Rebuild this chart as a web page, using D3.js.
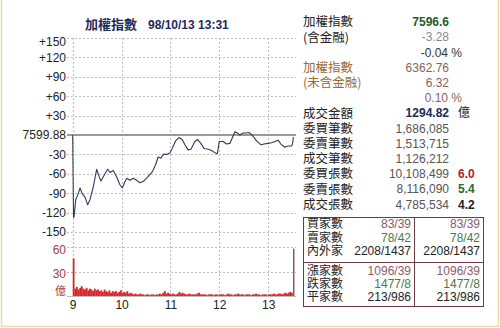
<!DOCTYPE html>
<html>
<head>
<meta charset="utf-8">
<script src="https://cdn.jsdelivr.net/npm/d3@7"></script>
<style>
  body { margin: 0; background: #fff; }
  text { font-family: "Liberation Sans", Arial, "Noto Sans CJK TC", sans-serif; }
  .cjk { font-family: "Noto Sans CJK TC", "Liberation Sans", sans-serif; }
</style>
</head>
<body>
<div id="chart"></div>
<script>
// price change vs previous close 7599.88, minutes after 9:00
const priceMinutes = [0, 1, 1.6, 3.7, 6.1, 9, 11.8, 15.1, 18.4, 21.2, 25.3, 29.4, 32.3, 34.7, 38.8, 42.9, 45.8, 49.8, 54, 58, 60.9,
  64.2, 66.6, 70.3, 74.4, 78.5, 82.6, 86.6, 92, 97.7, 101.8, 105, 108.3, 111.2, 115.3, 119.4, 122.2, 126.4, 130.4, 134.5,
  137.8, 141.8, 145.2, 150.1, 153.4, 157.4, 161.5, 166.4, 170.6, 175.5, 177.7, 179.9, 184.8, 189, 193, 195.8, 199.1, 202.4,
  205.3, 209.3, 213.5, 216.3, 220.4, 225.8, 231, 235.1, 240, 244.2, 248.2, 252.3, 255.6, 260.5, 264.5, 268.7, 270, 271];
const priceChange = [0, -127, -127, -100, -93, -82, -91, -96, -108, -100, -80, -53, -64, -71, -62, -53, -58, -55, -65, -77, -82,
  -72, -67, -70, -67, -70, -74, -72, -65, -57, -46, -34, -36, -30, -30, -28, -21, -9, -4, -7,
  -15, -23, -22, -10, -7, -13, -21, -22, -24, -28, -29, -10, -10, -14, -13, -5, 5, 3,
  0, 3, 3, 4, 0, -9, -15, -14, -13, -12, -10, -8, -14, -19, -17, -17, -14, -3];

// traded value per 2 minutes (億), from 9:00
const volume = [46, 9, 11, 8, 10, 12, 9, 8, 10, 7, 9, 8, 6, 9, 7, 8,
  6, 7, 5, 8, 6, 5, 7, 4, 6, 5, 6, 4, 5, 7, 4,
  5, 4, 6, 3, 4, 3, 2, 3, 2, 2, 3, 2, 2, 1, 2,
  2, 1, 2, 2, 1, 2, 2, 3, 2, 4, 6, 3, 4, 3, 2,
  3, 2, 2, 3, 5, 3, 4, 3, 2, 2, 3, 2, 2, 2, 2,
  3, 4, 2, 2, 2, 2, 1, 2, 2, 2, 1, 2, 2, 1, 2,
  2, 2, 1, 2, 3, 2, 2, 1, 2, 2, 3, 2, 2, 2, 1,
  2, 2, 2, 1, 2, 2, 3, 2, 2, 1, 2, 2, 2, 1, 2,
  2, 2, 3, 2, 2, 3, 3, 2, 3, 4, 3, 4, 5, 4];
const closingVolume = 58;

const priceTicks = [150, 120, 90, 60, 30, 0, -30, -60, -90, -120, -150];
const volumeTicks = [0, 30, 60];
const hourTicks = [0, 60, 120, 180, 240];
const hourLabels = ['9', '10', '11', '12', '13'];
const prevClose = '7599.88';

const title = ['加權指數', '98/10/13 13:31'];

const infoLabels = ['加權指數', '(含金融)', '', '加權指數', '(未含金融)', '', '成交金額', '委買筆數', '委賣筆數', '成交筆數', '委買張數', '委賣張數', '成交張數'];
const infoValues = ['7596.6', '-3.28', '', '6362.76', '6.32', '', '1294.82', '1,686,085', '1,513,715', '1,126,212', '10,108,499', '8,116,090', '4,785,534'];
const infoExtra = ['', '', '-0.04 %', '', '', '0.10 %', '億', '', '', '', '6.0', '5.4', '4.2'];

const tableLabels = ['買家數', '賣家數', '內外家', '漲家數', '跌家數', '平家數'];
const tableValues = ['83/39', '78/42', '2208/1437', '1096/39', '1477/8', '213/986'];

const svg = d3.select('#chart').append('svg')
  .attr('width', 500)
  .attr('height', 328);

// frame
svg.append('path')
  .attr('d', 'M1.5,0V326.5H498.5V0')
  .attr('fill', 'none')
  .attr('stroke', '#e6e29a')
  .attr('stroke-width', 1.5);

const x = d3.scaleLinear().domain([0, 273]).range([72.7, 295]);
const y = d3.scaleLinear().domain([-150, 150]).range([232, 38]);
const yVol = d3.scaleLinear().domain([0, 60]).range([296, 247]);
const plotRight = 296;

// gridlines
const grid = svg.append('g')
  .attr('stroke', '#bdbdbd')
  .attr('stroke-dasharray', '2,2')
  .attr('stroke-width', 1);

grid.selectAll('.hg')
  .data(priceTicks.filter(d => d !== 0))
  .join('line')
  .attr('x1', 67).attr('x2', plotRight)
  .attr('y1', d => Math.round(y(d)) + 0.5).attr('y2', d => Math.round(y(d)) + 0.5);

grid.selectAll('.vg')
  .data([30, 60])
  .join('line')
  .attr('x1', 67).attr('x2', plotRight)
  .attr('y1', d => Math.round(yVol(d)) + 0.5).attr('y2', d => Math.round(yVol(d)) + 0.5);

grid.selectAll('.xg')
  .data(hourTicks)
  .join('line')
  .attr('x1', d => Math.round(x(d)) + 0.5).attr('x2', d => Math.round(x(d)) + 0.5)
  .attr('y1', 38).attr('y2', 297);

// volume baseline
svg.append('line')
  .attr('x1', 67).attr('x2', plotRight)
  .attr('y1', 296.5).attr('y2', 296.5)
  .attr('stroke', '#bdbdbd');

// previous close line
svg.append('line')
  .attr('x1', 67).attr('x2', plotRight)
  .attr('y1', y(0)).attr('y2', y(0))
  .attr('stroke', '#9a9a9a')
  .attr('stroke-width', 2);

// volume bars
svg.append('g')
  .selectAll('rect')
  .data(volume)
  .join('rect')
  .attr('x', (d, i) => x(i * 2))
  .attr('width', x(2) - x(0) + 0.2)
  .attr('y', d => yVol(d))
  .attr('height', d => yVol(0) - yVol(d))
  .attr('fill', '#d8282c');

svg.append('rect')
  .attr('x', x(270) + 0.5)
  .attr('width', 1.4)
  .attr('y', yVol(closingVolume))
  .attr('height', yVol(0) - yVol(closingVolume))
  .attr('fill', '#8c4c50');

// price line
const line = d3.line()
  .x((d, i) => x(priceMinutes[i]))
  .y(d => y(d));

svg.append('path')
  .datum(priceChange)
  .attr('d', line)
  .attr('fill', 'none')
  .attr('stroke', '#2c3a58')
  .attr('stroke-width', 1.1)
  .attr('stroke-linejoin', 'round');

// axes (labels only)
const yAxis = d3.axisLeft(y)
  .tickValues(priceTicks)
  .tickSize(0)
  .tickPadding(0)
  .tickFormat(d => d === 0 ? prevClose : (d > 0 ? '+' + d : d));

const gy = svg.append('g')
  .attr('transform', 'translate(66,0)')
  .call(yAxis);
gy.select('.domain').remove();
gy.selectAll('text')
  .attr('font-size', 12)
  .attr('font-family', '"Liberation Sans", Arial, sans-serif')
  .attr('fill', '#222')
  .attr('dy', d => d === 150 ? '0.6em' : '0.32em');

const volAxis = d3.axisLeft(yVol)
  .tickValues(volumeTicks)
  .tickSize(0)
  .tickPadding(0)
  .tickFormat(d => d === 0 ? '億' : d);

const gv = svg.append('g')
  .attr('transform', 'translate(66,0)')
  .call(volAxis);
gv.select('.domain').remove();
gv.selectAll('text')
  .attr('fill', '#a83a3a')
  .attr('font-family', d => d === 0 ? '"Noto Sans CJK TC", sans-serif' : '"Liberation Sans", Arial, sans-serif')
  .attr('font-size', d => d === 0 ? 11 : 12)
  .attr('dy', d => d === 0 ? '-0.1em' : '0.5em');

const xAxis = d3.axisBottom(x)
  .tickValues(hourTicks)
  .tickSize(0)
  .tickPadding(0)
  .tickFormat((d, i) => hourLabels[i]);

const gx = svg.append('g')
  .attr('transform', 'translate(0,300)')
  .call(xAxis);
gx.select('.domain').remove();
gx.selectAll('text')
  .attr('font-size', 12)
  .attr('font-family', '"Liberation Sans", Arial, sans-serif')
  .attr('fill', '#222');

// title
svg.append('text')
  .attr('class', 'cjk')
  .attr('x', 85).attr('y', 29)
  .attr('font-size', 13)
  .attr('font-weight', 'bold')
  .attr('fill', '#1c2a58')
  .text(title[0]);
svg.append('text')
  .attr('x', 148).attr('y', 29)
  .attr('font-size', 12)
  .attr('font-weight', 'bold')
  .attr('fill', '#1c2a58')
  .text(title[1]);

// info panel
const rowY = i => 22 + i * 15.2;
const labelColor = i => (i === 3 || i === 4) ? '#9c6a30' : '#222';
const valueColor = ['#1e5a2c', '#8a8a8a', '', '#8a6060', '#8a6060', '', '#1c2a58', '#555', '#555', '#555', '#555', '#555', '#555'];
const extraColor = ['', '', '#333', '', '', '#8a6060', '#222', '', '', '', '#b0242a', '#2e6a2e', '#222'];

const info = svg.append('g');
info.selectAll('.lab')
  .data(infoLabels)
  .join('text')
  .attr('class', 'cjk')
  .attr('x', 303)
  .attr('y', (d, i) => rowY(i))
  .attr('dy', '0.35em')
  .attr('font-size', 12.5)
  .attr('fill', (d, i) => labelColor(i))
  .text(d => d);

info.selectAll('.val')
  .data(infoValues)
  .join('text')
  .attr('x', 449)
  .attr('y', (d, i) => rowY(i))
  .attr('dy', '0.35em')
  .attr('text-anchor', 'end')
  .attr('font-size', 12)
  .attr('font-weight', (d, i) => (i === 0 || i === 6) ? 'bold' : 'normal')
  .attr('fill', (d, i) => valueColor[i])
  .text(d => d);

info.selectAll('.ext')
  .data(infoExtra)
  .join('text')
  .attr('class', (d, i) => i === 6 ? 'cjk' : null)
  .attr('x', (d, i) => (i === 2 || i === 5) ? 462 : 458)
  .attr('y', (d, i) => rowY(i))
  .attr('dy', '0.35em')
  .attr('text-anchor', (d, i) => (i === 2 || i === 5) ? 'end' : 'start')
  .attr('font-size', 12)
  .attr('font-weight', (d, i) => i >= 10 ? 'bold' : 'normal')
  .attr('fill', (d, i) => extraColor[i])
  .text(d => d);

// breadth table
const table = svg.append('g');
table.append('rect')
  .attr('x', 303.5).attr('y', 217.5)
  .attr('width', 180).attr('height', 89)
  .attr('fill', 'none')
  .attr('stroke', '#6e3c40');
table.append('line')
  .attr('x1', 414.5).attr('x2', 414.5)
  .attr('y1', 217.5).attr('y2', 306.5)
  .attr('stroke', '#6e3c40');
table.append('line')
  .attr('x1', 303.5).attr('x2', 483.5)
  .attr('y1', 262.5).attr('y2', 262.5)
  .attr('stroke', '#6e3c40');

const tRowY = [224, 237.5, 251, 271, 284, 297];
const tColor = ['#8a5a6c', '#4a7a48', '#222', '#8a5a6c', '#4a7a48', '#222'];

table.selectAll('.tl')
  .data(tableLabels)
  .join('text')
  .attr('class', 'cjk')
  .attr('x', 307)
  .attr('y', (d, i) => tRowY[i])
  .attr('dy', '0.35em')
  .attr('font-size', 12)
  .attr('fill', '#222')
  .text(d => d);

[411, 480].forEach(xr => {
  table.selectAll(null)
    .data(tableValues)
    .join('text')
    .attr('x', xr)
    .attr('y', (d, i) => tRowY[i])
    .attr('dy', '0.35em')
    .attr('text-anchor', 'end')
    .attr('font-size', 12)
    .attr('fill', (d, i) => tColor[i])
    .text(d => d);
});
</script>
</body>
</html>
